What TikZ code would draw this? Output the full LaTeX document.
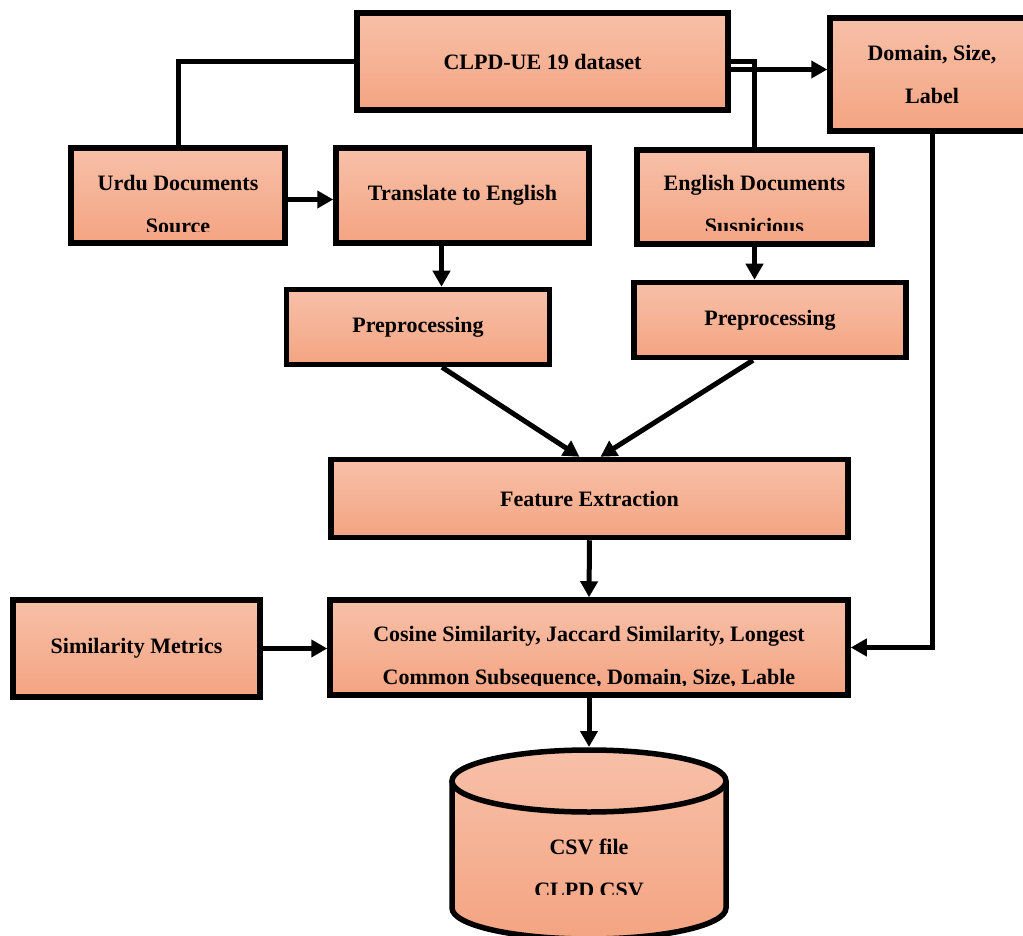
\documentclass[tikz,border=0pt]{standalone}
\usepackage{fontspec}
\setmainfont{Liberation Serif}
\usepackage{tikz}
\usetikzlibrary{arrows.meta,calc,positioning}
\definecolor{boxtop}{HTML}{F7C0A8}
\definecolor{boxbot}{HTML}{F4A482}

\begin{document}
\begin{tikzpicture}[x=1pt,y=-1pt,>={Triangle[length=16pt,width=17pt]},font=\fontsize{22}{43}\selectfont\bfseries,
  box/.style={draw,line width=5.5pt,top color=boxtop,bottom color=boxbot,inner sep=0pt,align=center},
  txt/.style={inner sep=0pt,align=center},
  link/.style={line width=5pt}]
\useasboundingbox (0,0) rectangle (1023,936);
\node[box,minimum width=371pt,minimum height=97pt] (data) at (542.5,61.5) {CLPD-UE 19 dataset};
\node[box,minimum width=204pt,minimum height=113pt] (lab) at (932,74.5) {Domain, Size,\\Label};
\node[box,minimum width=214pt,minimum height=95pt] (urdu) at (178,195.5) {};
\node[box,minimum width=253pt,minimum height=95pt] (trans) at (462.5,195.5) {Translate to English};
\node[box,minimum width=235pt,minimum height=94pt] (eng) at (754.5,197) {};
\node[box,minimum width=263pt,minimum height=75pt] (preL) at (418,327) {Preprocessing};
\node[box,minimum width=272pt,minimum height=75pt] (preR) at (770,320) {Preprocessing};
\node[box,minimum width=517pt,minimum height=78pt] (feat) at (589.5,498.5) {Feature Extraction};
\node[box,minimum width=247pt,minimum height=97pt] (sim) at (136.5,648.5) {Similarity Metrics};
\node[box,minimum width=518pt,minimum height=95pt] (cos) at (589,647.5) {};
\begin{scope}
\clip (urdu.north west) rectangle ([yshift=14pt]urdu.south east);
\node[txt] (urdutxt) at (178,205) {Urdu Documents\\Source};
\end{scope}
\begin{scope}
\clip (eng.north west) rectangle ([yshift=16pt]eng.south east);
\node[txt] (engtxt) at (754.5,207) {English Documents\\Suspicious};
\end{scope}
\begin{scope}
\clip (cos.north west) rectangle ([yshift=12pt]cos.south east);
\node[txt] (costxt) at (589,658) {Cosine Similarity, Jaccard Similarity, Longest\\Common Subsequence, Domain, Size, Lable};
\end{scope}
\fill[top color=boxtop,bottom color=boxbot] (726,781) -- (726,908) arc[start angle=0,end angle=180,x radius=137,y radius=31] -- (452,781) arc[start angle=180,end angle=360,x radius=137,y radius=31] -- cycle;
\draw[line width=5.5pt] (726,781) -- (726,908) arc[start angle=0,end angle=180,x radius=137,y radius=31] -- (452,781);
\draw[line width=5.5pt] (589,781) ellipse[x radius=137,y radius=31];
\coordinate (csvtop) at (589,747);
\begin{scope}
\clip (452,790) rectangle (726,894);
\node[txt] (csv) at (589,868) {CSV file\\CLPD CSV};
\end{scope}
\draw[link] (data.west) -| (urdu.north);
\draw[link] (data.east) -| (eng.north);
\draw[link,->] ([yshift=-8pt]data.east) -- ([yshift=-8pt]data.east -| lab.west);
\draw[link,->] ([yshift=-4pt]urdu.east) -- ([yshift=-4pt]urdu.east -| trans.west);
\draw[link,->] ([xshift=-21pt]trans.south) -- ([xshift=-21pt]trans.south |- preL.north);
\draw[link,->] (eng.south) -- (eng.south |- preR.north);
\draw[link,->] ([xshift=24pt]preL.south) -- ([xshift=-10pt]feat.north);
\draw[link,->] ([xshift=-17pt]preR.south) -- ([xshift=11pt]feat.north);
\draw[link,->] (feat.south) -- (cos.north);
\draw[link,->] (sim.east) -- (sim.east -| cos.west);
\draw[link,->] (lab.south) |- (cos.east);
\draw[link,->] (cos.south) -- (csvtop);
\end{tikzpicture}
\end{document}
